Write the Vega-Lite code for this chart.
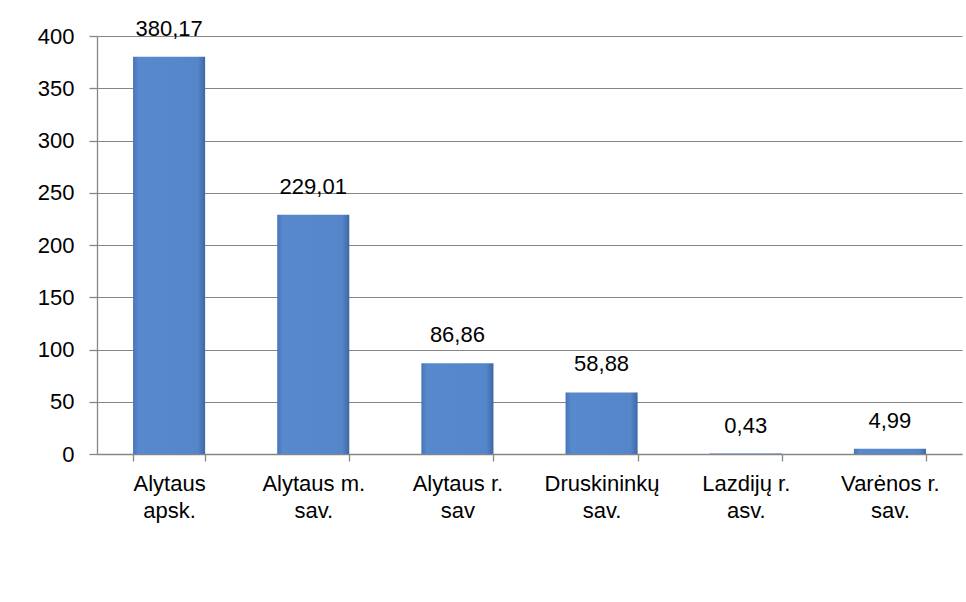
{
  "$schema": "https://vega.github.io/schema/vega-lite/v6.json",
  "width": 865,
  "height": 418,
  "autosize": {"type": "none"},
  "padding": {"left": 97, "top": 36, "right": 4, "bottom": 148},
  "background": "white",
  "config": {
    "locale": {"number": {"decimal": ",", "thousands": " ", "grouping": [3], "currency": ["", " €"]}},
    "view": {"stroke": null},
    "font": "Liberation Sans",
    "axis": {"labelFont": "Liberation Sans", "labelFontSize": 22, "labelColor": "black", "domainColor": "#868686", "tickColor": "#868686", "gridColor": "#868686", "gridWidth": 1, "domainWidth": 1.3, "tickWidth": 1.3}
  },
  "data": {"values": [
    {"region": "Alytaus apsk.", "value": 380.17},
    {"region": "Alytaus m. sav.", "value": 229.01},
    {"region": "Alytaus r. sav", "value": 86.86},
    {"region": "Druskininkų sav.", "value": 58.88},
    {"region": "Lazdijų r. asv.", "value": 0.43},
    {"region": "Varėnos r. sav.", "value": 4.99}
  ]},
  "encoding": {
    "x": {"field": "region", "type": "nominal", "sort": null,
      "scale": {"paddingInner": 0.5, "paddingOuter": 0.25},
      "axis": {"title": null, "labelAngle": 0, "tickBand": "extent", "tickSize": 7, "labelPadding": 12, "labelLineHeight": 27, "labelBaseline": "top",
        "labelExpr": "[slice(datum.label, 0, lastindexof(datum.label, ' ')), slice(datum.label, lastindexof(datum.label, ' ') + 1)]"}},
    "y": {"field": "value", "type": "quantitative",
      "scale": {"domain": [0, 400], "nice": false},
      "axis": {"title": null, "values": [0, 50, 100, 150, 200, 250, 300, 350, 400], "tickSize": 8, "labelPadding": 15, "grid": true}}
  },
  "layer": [
    {"mark": {"type": "bar", "color": {"gradient": "linear", "x1": 0, "x2": 1, "y1": 0, "y2": 0, "stops": [
      {"offset": 0, "color": "#4676B8"}, {"offset": 0.08, "color": "#5889CD"}, {"offset": 0.9, "color": "#5586CA"}, {"offset": 1, "color": "#3C68A6"}]}}},
    {"mark": {"type": "text", "baseline": "bottom", "dy": -16, "fontSize": 22, "font": "Liberation Sans", "color": "black"},
      "encoding": {"text": {"field": "value", "type": "quantitative", "format": ".2f"}}}
  ]
}
